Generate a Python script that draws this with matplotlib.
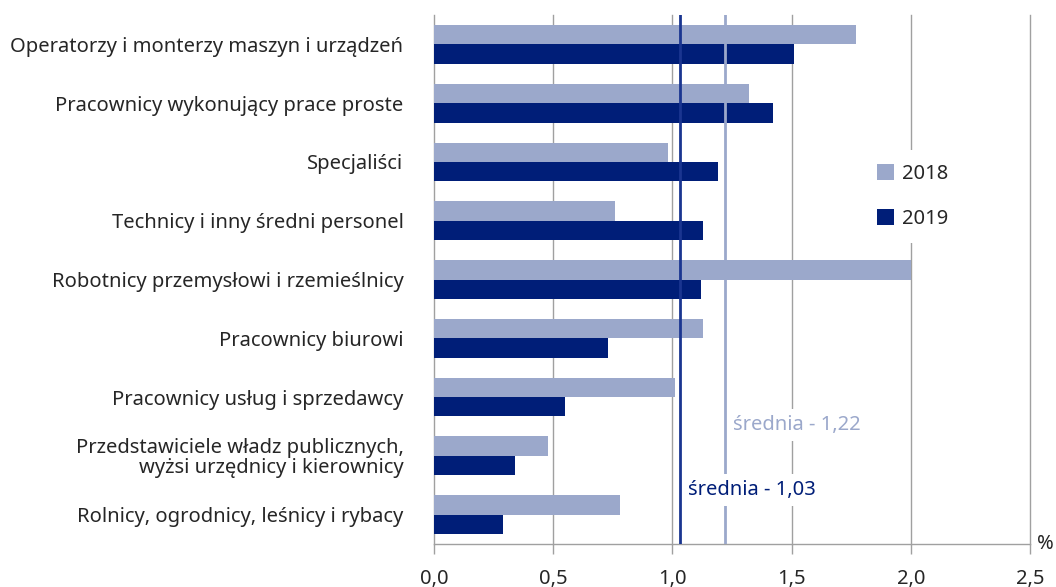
import matplotlib
matplotlib.use("Agg")
import matplotlib.pyplot as plt
import numpy as np

plt.rcParams['font.family'] = ['Noto Sans', 'DejaVu Sans']

categories = [
    "Operatorzy i monterzy maszyn i urządzeń",
    "Pracownicy wykonujący prace proste",
    "Specjaliści",
    "Technicy i inny średni personel",
    "Robotnicy przemysłowi i rzemieślnicy",
    "Pracownicy biurowi",
    "Pracownicy usług i sprzedawcy",
    "Przedstawiciele władz publicznych,\nwyżsi urzędnicy i kierownicy",
    "Rolnicy, ogrodnicy, leśnicy i rybacy",
]
values_2018 = [1.77, 1.32, 0.98, 0.76, 2.00, 1.13, 1.01, 0.48, 0.78]
values_2019 = [1.51, 1.42, 1.19, 1.13, 1.12, 0.73, 0.55, 0.34, 0.29]
mean_2018 = 1.22
mean_2019 = 1.03
xticks = [0.0, 0.5, 1.0, 1.5, 2.0, 2.5]
xtick_labels = ["0,0", "0,5", "1,0", "1,5", "2,0", "2,5"]

c2018 = "#9BA8CB"
c2019 = "#001E78"
cmean19 = "#1A3590"
grid_c = "#A0A0A0"
text_c = "#262626"
fs = 14.5

fig = plt.figure(figsize=(10.56, 5.87), dpi=100)
ax = fig.add_axes([434/1056, 1-544/587, (1030-434)/1056, (544-15)/587])

y = np.arange(len(categories))
h = 0.33
ax.barh(y - h/2, values_2018, height=h, color=c2018, label="2018", zorder=3)
ax.barh(y + h/2, values_2019, height=h, color=c2019, label="2019", zorder=3)

ax.set_xlim(0, 2.5)
ax.set_ylim(len(categories) - 0.5, -0.5)

for xv in xticks:
    ax.axvline(xv, color=grid_c, lw=1.0, zorder=1, clip_on=False)

ax.axvline(mean_2018, color=c2018, lw=2, zorder=4)
ax.axvline(mean_2019, color=cmean19, lw=2, zorder=6)

ax.text(mean_2018 + 0.035, 6.475, "średnia - 1,22", color=c2018, fontsize=fs,
        va="center", ha="left", zorder=5,
        bbox=dict(facecolor="white", edgecolor="none", pad=4))
ax.text(mean_2019 + 0.035, 7.58, "średnia - 1,03", color=c2019, fontsize=fs,
        va="center", ha="left", zorder=5,
        bbox=dict(facecolor="white", edgecolor="none", pad=4))

ax.set_yticks(y)
ax.set_yticklabels(categories, fontsize=fs, color=text_c, linespacing=1.0)
ax.tick_params(axis="y", length=0, pad=22)

ax.set_xticks(xticks)
ax.set_xticklabels(xtick_labels, fontsize=fs, color=text_c)
ax.tick_params(axis="x", length=7, color=grid_c, width=1.0, pad=11, direction="out")

for s in ["top", "right", "left"]:
    ax.spines[s].set_visible(False)
ax.spines["bottom"].set_color(grid_c)
ax.spines["bottom"].set_linewidth(1.0)

ax.text(1.012, 0.0, "%", transform=ax.transAxes, fontsize=fs, color=text_c,
        ha="left", va="center")

leg = ax.legend(loc="center left", bbox_to_anchor=(0.72, 0.657), frameon=True,
                fontsize=fs, handlelength=0.85, handleheight=0.85, labelspacing=1.25,
                borderpad=0.7, handletextpad=0.4, borderaxespad=0)
leg.get_frame().set_edgecolor("none")
leg.get_frame().set_facecolor("white")
leg.get_frame().set_alpha(1)
leg.set_zorder(2)
for t in leg.get_texts():
    t.set_color(text_c)

fig.savefig("out.png", dpi=100)
